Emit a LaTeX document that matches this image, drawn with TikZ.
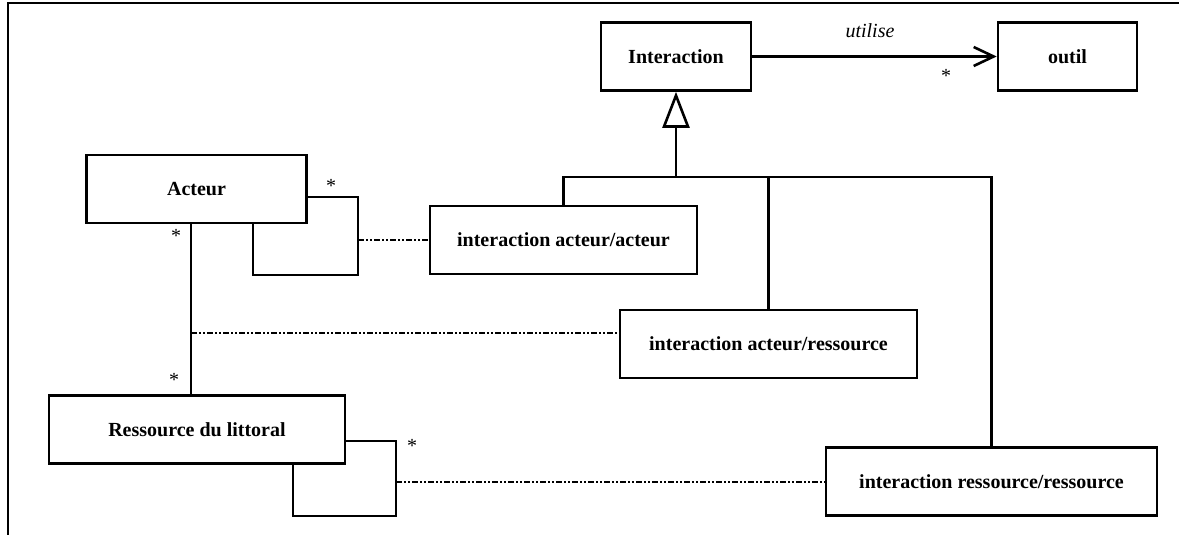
\documentclass[tikz,border=0pt]{standalone}
\usepackage{fontspec}
\setmainfont{Liberation Serif}
\usetikzlibrary{arrows.meta}

\begin{document}
\begin{tikzpicture}[x=0.5pt, y=-0.5pt, line width=1.3pt,
    classbox/.style={draw, font=\fontsize{10}{12}\selectfont\bfseries, inner sep=0pt, minimum height=34pt},
    assoc/.style={line width=1pt, dash pattern=on 3pt off 1pt on 1pt off 1pt on 1pt off 1pt},
    mult/.style={font=\fontsize{10}{12}\selectfont, inner sep=0pt}]
    \useasboundingbox (0,0) rectangle (1179,535);
    \draw[line width=1.4pt] (8,535) -- (8,3) -- (1179,3);
    \node[classbox, minimum width=75pt] (inter) at (676,56.5) {Interaction};
    \node[classbox, minimum width=69.5pt] (outil) at (1067.5,56.5) {outil};
    \node[classbox, minimum width=110pt] (act) at (196.5,189) {Acteur};
    \node[classbox, minimum width=133.5pt] (iaa) at (563.5,240) {interaction acteur/acteur};
    \node[classbox, minimum width=148.5pt] (iar) at (768.5,344) {interaction acteur/ressource};
    \node[classbox, minimum width=148pt] (res) at (197,429.5) {Ressource du littoral};
    \node[classbox, minimum width=165.5pt] (irr) at (991.5,481.5) {interaction ressource/ressource};
    \draw[-{Straight Barb[length=10pt, width=9.5pt]}] (inter) -- (outil);
    \node[font=\fontsize{10}{12}\selectfont\itshape] (util) at (870,31) {utilise};
    \node[mult] (m1) at (946,76) {*};
    \coordinate (gen) at (676,177);
    \draw[-{Triangle[open, length=18pt, width=13.5pt]}] (gen) -- (inter);
    \draw (iaa.north) |- (gen) -| (irr.north);
    \draw (iar.north) -- (iar.north |- gen);
    \coordinate (actloop) at (358,240);
    \draw (act.east |- 0,197) -| (358,275) -| (act.south -| 253,0);
    \draw[assoc] (actloop) -- (iaa.west);
    \node[mult] (m2) at (331,186) {*};
    \coordinate (ar) at (191,333);
    \draw (act.south -| ar) -- (res.north -| ar);
    \draw[assoc] (ar) -- (ar -| iar.west);
    \node[mult] (m3) at (176,236) {*};
    \node[mult] (m4) at (174,380) {*};
    \coordinate (resloop) at (396,481.5);
    \draw (res.east |- 0,441) -| (396,516) -| (res.south -| 293,0);
    \draw[assoc] (resloop) -- (irr.west);
    \node[mult] (m5) at (412,446) {*};
\end{tikzpicture}
\end{document}
